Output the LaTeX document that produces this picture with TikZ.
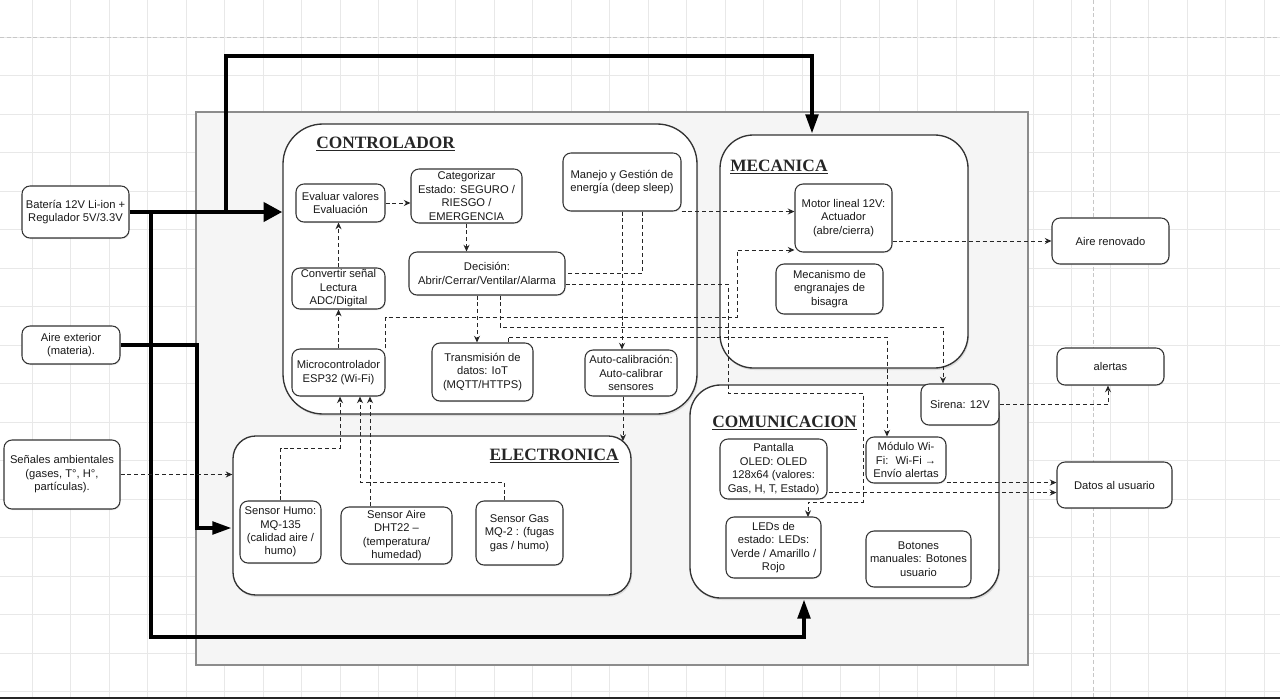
\documentclass[tikz,border=0pt]{standalone}
\usepackage{fontspec}
\setmainfont{Liberation Sans}
\newfontfamily\ttlfont{Liberation Serif}
\usetikzlibrary{arrows.meta,shadows,calc}
\newcommand\mkbox[7][bx]{\node[#1,minimum width={(#5-#3)*0.75pt},minimum height={(#6-#4)*0.75pt}] (#2) at ({(#3+#5)/2},{(#4+#6)/2}) {#7};}
\begin{document}
\begin{tikzpicture}[x=0.75pt,y=-0.75pt,
 bx/.style={draw=black!80, fill=white, rounded corners=6pt, line width=0.8pt, align=center,
   font=\fontsize{8.4}{10.1}\selectfont, text=black!90, inner sep=0pt,
   drop shadow={opacity=0.18, shadow xshift=0.5pt, shadow yshift=-0.9pt}},
 cont/.style={draw=black!80, fill=white, line width=1pt, inner sep=0pt,
   drop shadow={opacity=0.22, shadow xshift=0.8pt, shadow yshift=-1.5pt}},
 ttl/.style={font=\ttlfont\bfseries\fontsize{13}{15}\selectfont, text=black!85, inner sep=0pt},
 da/.style={draw=black!85, line width=0.75pt, dash pattern=on 3pt off 2.2pt, -{Stealth[length=5pt,width=4.5pt]}},
 dl/.style={draw=black!85, line width=0.75pt, dash pattern=on 3pt off 2.2pt},
 thk/.style={draw=black, line width=3.6pt, -{Triangle[length=15pt,width=9pt]}},
 thkbig/.style={draw=black, line width=3.6pt, -{Triangle[length=14pt,width=14pt]}},
 gridline/.style={draw=black!9, line width=0.6pt},
 majorline/.style={draw=black!22, line width=0.6pt, dash pattern=on 3pt off 2pt},
]
\useasboundingbox (0,0) rectangle (1280,699);
\fill[white] (0,0) rectangle (1280,699);
% canvas grid
\foreach \gx in {32,70.5,...,1280} \draw[gridline] (\gx,0) -- (\gx,699);
\foreach \gy in {37,75.5,...,699} \draw[gridline] (0,\gy) -- (1280,\gy);
\draw[majorline] (0,37) -- (1280,37);
\draw[majorline] (1093,0) -- (1093,699);
\fill[black!85] (0,696.5) rectangle (1280,699);
% frame
\draw[draw=black!45, fill=black!4, line width=0.8pt] (196,112) rectangle (1028,665);

% containers
\mkbox[cont,rounded corners=30pt]{ctrl}{283}{124}{697}{414}{}
\mkbox[cont,rounded corners=25pt]{mec}{720}{135}{968}{368}{}
\mkbox[cont,rounded corners=17pt]{elec}{233}{436}{631}{595}{}
\mkbox[cont,rounded corners=23pt]{com}{690}{385}{999}{598}{}
\node[ttl,anchor=west] (tctrl) at (316,144) {\underline{CONTROLADOR}};
\node[ttl,anchor=west] (tmec) at (730,167) {\underline{MECANICA}};
\node[ttl,anchor=east] (telec) at (619,456) {\underline{ELECTRONICA}};
\node[ttl,anchor=west] (tcom) at (712,423) {\underline{COMUNICACION}};

% outside nodes
\mkbox{bat}{22}{186}{129}{238}{Batería 12V Li-ion +\\Regulador 5V/3.3V}
\mkbox{aire}{22}{326}{120}{364}{Aire exterior\\(materia).}
\mkbox{sen}{4}{440}{120}{509}{Señales ambientales\\(gases, T°, H°,\\partículas).}
\mkbox{ren}{1052}{218}{1169}{264}{Aire renovado}
\mkbox{ale}{1057}{348}{1164}{385}{alertas}
\mkbox{dat}{1057}{462}{1172}{508}{Datos al usuario}

% controlador
\mkbox{eval}{296}{184}{385}{222}{Evaluar valores\\Evaluación}
\mkbox{cat}{411}{169}{522}{223}{Categorizar\\Estado: SEGURO /\\RIESGO /\\EMERGENCIA}
\mkbox{man}{563}{153}{681}{211}{Manejo y Gestión de\\energía (deep sleep)}
\mkbox{dec}{409}{252}{565}{295}{Decisión:\\Abrir/Cerrar/Ventilar/Alarma}
\mkbox{conv}{292}{268}{385}{309}{Convertir señal\\Lectura\\ADC/Digital}
\mkbox{mic}{292}{349}{385}{396}{Microcontrolador\\ESP32 (Wi-Fi)}
\mkbox{tra}{432}{343}{533}{401}{Transmisión de\\datos: IoT\\(MQTT/HTTPS)}
\mkbox{auto}{585}{350}{677}{396}{Auto-calibración:\\Auto-calibrar\\sensores}

% mecanica
\mkbox{mot}{795}{184}{892}{252}{Motor lineal 12V:\\Actuador\\(abre/cierra)}
\mkbox{mecn}{776}{264}{883}{314}{Mecanismo de\\engranajes de\\bisagra}

% electronica
\mkbox{hum}{240}{501}{321}{563}{Sensor Humo:\\MQ-135\\(calidad aire /\\humo)}
\mkbox{dht}{341}{507}{452}{564}{Sensor Aire\\DHT22 –\\(temperatura/\\humedad)}
\mkbox{gas}{476}{501}{563}{565}{Sensor Gas\\MQ-2 : (fugas\\gas / humo)}

% comunicacion
\mkbox{sir}{921}{384}{999}{425}{Sirena: 12V}
\mkbox{pan}{720}{439}{827}{499}{Pantalla\\OLED: OLED\\128x64 (valores:\\Gas, H, T, Estado)}
\mkbox{mod}{866}{437}{946}{483}{Módulo Wi-\\Fi: \ Wi-Fi →\\Envío alertas}
\mkbox{led}{726}{517}{821}{578}{LEDs de\\estado: LEDs:\\Verde / Amarillo /\\Rojo}
\mkbox{bot}{866}{531}{971}{587}{Botones\\manuales: Botones\\usuario}

% thick power / matter connectors
\coordinate (j1) at (226,212);
\coordinate (t2) at (812,56);
\coordinate (j2) at (151,212);
\coordinate (t3) at (804,637);
\coordinate (c4) at (197,528);
\draw[thkbig] (bat.east) -- (bat.east -| ctrl.west);
\draw[thk] (j1) |- (t2) -- (t2 |- mec.north);
\draw[thk] (j2) |- (t3) -- (t3 |- com.south);
\draw[thk] (aire.east) -| (c4) -- (c4 -| elec.west);

% dashed signal connectors
\draw[da] (sen.east) -- (sen.east -| elec.west);
\draw[da] (conv.north) -- (conv.north |- eval.south);
\draw[da] (mic.north) -- (mic.north |- conv.south);
\draw[da] (eval.east) -- (eval.east -| cat.west);
\draw[da] (cat.south) -- (cat.south |- dec.north);
\coordinate (d5) at ($(dec.south)+(-10,0)$);
\draw[da] (d5) -- (d5 |- tra.north);
\coordinate (d6) at ($(dec.south)+(13,0)$);
\coordinate (c6) at (943,327);
\draw[da] (d6) |- (c6) -- (c6 |- sir.north);
\coordinate (d7) at ($(tra.north)+(25.5,0)$);
\coordinate (c7) at (887,337);
\draw[da] (d7) |- (c7) -- (c7 |- mod.north);
\coordinate (c8a) at (737,317);
\coordinate (c8) at (737,250);
\draw[da] (mic.north east) |- (c8a) -- (c8) -- (c8 -| mot.west);
\draw[da] (man.south) -- (man.south |- auto.north);
\draw[dl] ($(man.south)+(20,0)$) |- (dec.east);
\draw[da] (man.south east) -- (man.south east -| mot.west);
\coordinate (d12) at ($(dec.east)+(0,10.5)$);
\draw[da] (d12) -- (728,284) -- (728,393) -- (863,393) -- (863,502) -- (808,502) -- (808,517);
\coordinate (d13) at ($(pan.south east)+(1,-7)$);
\draw[da] (d13) -- (d13 -| dat.west);
\coordinate (d14) at ($(mod.south east)+(0,-1)$);
\draw[da] (d14) -- (d14 -| dat.west);
\draw[da] (mot.east |- ren.west) -- (ren.west);
\draw[da] (sir.east) -| ($(ale.south)+(-2.5,0)$);
\coordinate (d17) at ($(auto.south)+(-8,0)$);
\draw[da] (d17) -- (623,441);
\coordinate (c18) at (340,448);
\draw[da] (hum.north) |- (c18) -- (c18 |- mic.south);
\coordinate (d19) at ($(dht.north)+(-26.5,0)$);
\draw[da] (d19) -- (d19 |- mic.south);
\coordinate (c20) at (360,482);
\draw[da] ($(gas.north)+(-15.5,0)$) |- (c20) -- (c20 |- mic.south);
\end{tikzpicture}
\end{document}
